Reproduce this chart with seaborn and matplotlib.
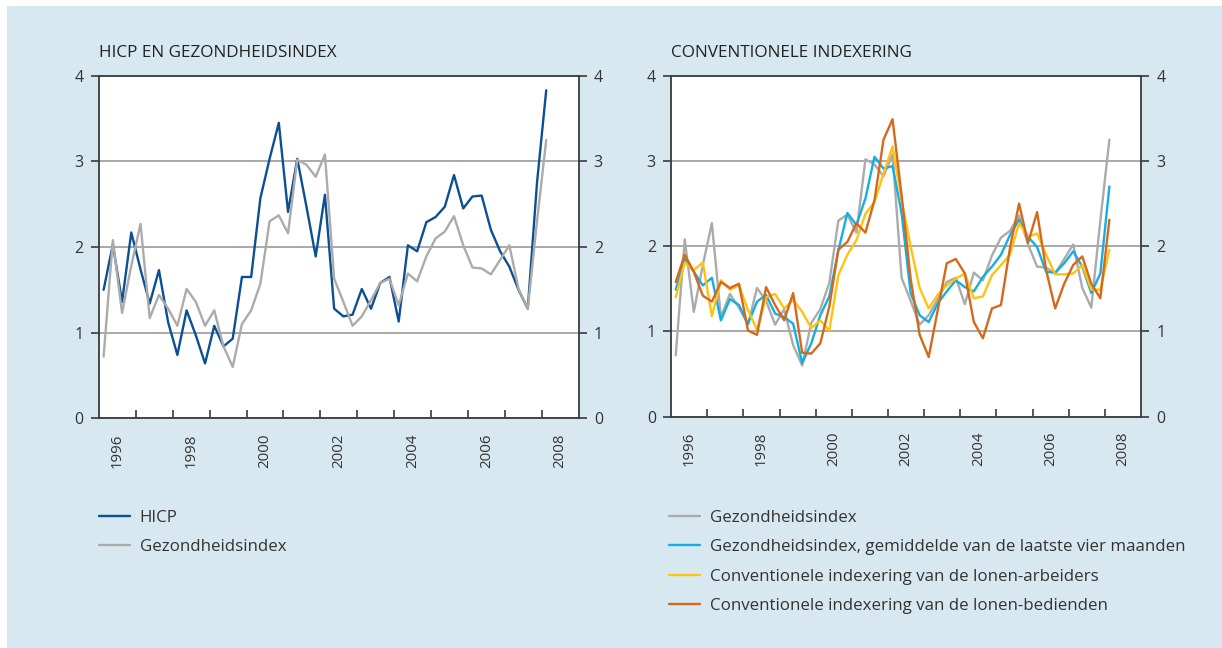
import matplotlib
matplotlib.use("Agg")
import numpy as np
import pandas as pd
import seaborn as sns
import matplotlib.pyplot as plt
from matplotlib.patches import Rectangle
from matplotlib.ticker import FixedLocator, NullFormatter

# ---------------- data (quarterly, 1996Q1 - 2008Q1) ----------------
quarters = [f"{y}Q{q}" for y in range(1996, 2009) for q in range(1, 5)][:49]

hicp = [1.50, 2.03, 1.36, 2.17, 1.74, 1.34, 1.73, 1.12, 0.74, 1.26,
        0.97, 0.64, 1.08, 0.84, 0.93, 1.65, 1.65, 2.57, 3.03, 3.45,
        2.41, 3.03, 2.47, 1.89, 2.61, 1.28, 1.19, 1.21, 1.51, 1.28,
        1.58, 1.65, 1.13, 2.02, 1.95, 2.29, 2.35, 2.47, 2.84, 2.45,
        2.59, 2.60, 2.20, 1.95, 1.77, 1.50, 1.28, 2.75, 3.83]

gezondheidsindex = [0.72, 2.08, 1.23, 1.78, 2.27, 1.17, 1.44, 1.28, 1.08, 1.51,
                    1.36, 1.08, 1.26, 0.84, 0.60, 1.10, 1.26, 1.57, 2.30, 2.37,
                    2.16, 3.02, 2.96, 2.82, 3.08, 1.63, 1.36, 1.08, 1.19, 1.38,
                    1.58, 1.63, 1.32, 1.69, 1.60, 1.89, 2.10, 2.18, 2.36, 2.02,
                    1.76, 1.75, 1.68, 1.85, 2.02, 1.51, 1.28, 2.30, 3.25]

gezondheidsindex_gem4m = [1.49, 1.85, 1.70, 1.54, 1.63, 1.13, 1.38, 1.31, 1.09, 1.35,
                          1.43, 1.21, 1.17, 1.09, 0.63, 0.86, 1.19, 1.41, 1.95, 2.39,
                          2.25, 2.56, 3.05, 2.91, 2.94, 2.39, 1.45, 1.19, 1.11, 1.33,
                          1.47, 1.60, 1.52, 1.47, 1.64, 1.76, 1.90, 2.13, 2.31, 2.11,
                          1.99, 1.70, 1.69, 1.80, 1.94, 1.76, 1.45, 1.68, 2.70]

index_arbeiders = [1.40, 1.81, 1.72, 1.81, 1.18, 1.60, 1.49, 1.54, 1.25, 1.02,
                   1.40, 1.44, 1.27, 1.37, 1.23, 1.04, 1.13, 1.01, 1.66, 1.90,
                   2.07, 2.38, 2.52, 2.85, 3.17, 2.54, 2.00, 1.51, 1.27, 1.43,
                   1.54, 1.62, 1.68, 1.39, 1.41, 1.66, 1.78, 1.90, 2.27, 2.11,
                   2.15, 1.90, 1.67, 1.67, 1.68, 1.78, 1.49, 1.49, 1.96]

index_bedienden = [1.58, 1.90, 1.70, 1.42, 1.35, 1.58, 1.51, 1.56, 1.01, 0.96,
                   1.52, 1.31, 1.13, 1.45, 0.75, 0.74, 0.86, 1.29, 1.96, 2.05,
                   2.27, 2.16, 2.54, 3.25, 3.49, 2.60, 1.62, 0.96, 0.70, 1.25,
                   1.80, 1.85, 1.68, 1.11, 0.92, 1.27, 1.31, 1.98, 2.50, 2.04,
                   2.40, 1.72, 1.27, 1.56, 1.78, 1.88, 1.56, 1.39, 2.31]

year_labels = ["1996", "1998", "2000", "2002", "2004", "2006", "2008"]
y_ticks = [0, 1, 2, 3, 4]

title_left = "HICP EN GEZONDHEIDSINDEX"
title_right = "CONVENTIONELE INDEXERING"
labels_left = ["HICP", "Gezondheidsindex"]
labels_right = ["Gezondheidsindex",
                "Gezondheidsindex, gemiddelde van de laatste vier maanden",
                "Conventionele indexering van de lonen-arbeiders",
                "Conventionele indexering van de lonen-bedienden"]

C_HICP = "#0b4f95"
C_GRAY = "#ababab"
C_CYAN = "#14aee5"
C_YEL = "#ffc20e"
C_ORA = "#d4691c"
BG = "#d8e8f1"


def qpos(lbl):
    return int(lbl[:4]) + (int(lbl[-1]) - 0.5) / 4.0


xpos = [qpos(q) for q in quarters]

df_left = pd.DataFrame({"t": xpos, labels_left[0]: hicp, labels_left[1]: gezondheidsindex})
df_right = pd.DataFrame({"t": xpos,
                         labels_right[0]: gezondheidsindex,
                         labels_right[1]: gezondheidsindex_gem4m,
                         labels_right[2]: index_arbeiders,
                         labels_right[3]: index_bedienden})

sns.set_theme(style="white")
plt.rcParams["font.family"] = ["Open Sans", "DejaVu Sans"]

W, H = 1222, 648
fig = plt.figure(figsize=(W / 100, H / 100), dpi=100)
fig.patch.set_facecolor("white")
fig.patches.append(Rectangle((7 / W, 0), 1 - 7 / W, 1 - 6 / H, transform=fig.transFigure,
                             facecolor=BG, edgecolor="none", zorder=-10))

ax1 = fig.add_axes([99 / W, 1 - 418.3 / H, (578.5 - 99) / W, (418.3 - 75.7) / H])
ax2 = fig.add_axes([671.2 / W, 1 - 416.7 / H, (1141 - 671.2) / W, (416.7 - 75.7) / H])

TXT = "#333333"
LW = 1.7


def draw(ax, df, labels, colors):
    for lab, col in zip(labels, colors):
        sns.lineplot(data=df, x="t", y=lab, ax=ax, color=col, lw=LW, label=lab, legend=False)


draw(ax1, df_left, labels_left, [C_HICP, C_GRAY])
draw(ax2, df_right, labels_right, [C_GRAY, C_CYAN, C_YEL, C_ORA])

years = list(range(1996, 2010))
for ax in (ax1, ax2):
    ax.set_facecolor("white")
    ax.set_xlim(1996, 2009)
    ax.set_ylim(0, 4)
    ax.set_xlabel("")
    ax.set_ylabel("")
    ax.set_axisbelow(True)
    ax.yaxis.grid(True, color="#a9a9a9", lw=1.4)
    ax.xaxis.grid(False)
    for s in ax.spines.values():
        s.set_visible(True)
        s.set_color("#3a3a3a")
        s.set_linewidth(1.3)
    # year boundaries as inward ticks, labels at mid-year
    ax.xaxis.set_major_locator(FixedLocator(years[1:-1]))
    ax.xaxis.set_major_formatter(NullFormatter())
    ax.set_xticks([int(y) + 0.5 for y in year_labels], minor=True)
    ax.set_xticklabels(year_labels, minor=True, rotation=90, fontsize=10.8, color=TXT)
    ax.tick_params(axis="x", which="major", direction="in", length=6, width=1.2,
                   color="#3a3a3a", bottom=True, top=False)
    ax.tick_params(axis="x", which="minor", length=0, pad=11)
    ax.set_yticks(y_ticks)
    ax.set_yticklabels([str(v) for v in y_ticks])
    ax.tick_params(axis="y", direction="out", length=6, width=1.2, color="#3a3a3a",
                   left=True, right=True, labelleft=True, labelright=True,
                   labelsize=11.5, labelcolor=TXT, pad=5)

fig.text(99 / W, 1 - 53 / H, title_left, fontsize=12.3, color="#222222", va="center", ha="left")
fig.text(671 / W, 1 - 53 / H, title_right, fontsize=12.3, color="#222222", va="center", ha="left")

leg_kw = dict(loc="upper left", frameon=False, fontsize=12.2, handlelength=1.8,
              handletextpad=0.6, labelspacing=0.79, borderaxespad=0, borderpad=0,
              labelcolor=TXT)
h1, l1 = ax1.get_legend_handles_labels()
fig.legend(h1, l1, bbox_to_anchor=(99 / W, 1 - 510 / H), **leg_kw)
h2, l2 = ax2.get_legend_handles_labels()
fig.legend(h2, l2, bbox_to_anchor=(669 / W, 1 - 510 / H), **leg_kw)

fig.savefig("out.png", dpi=100, facecolor=fig.get_facecolor())
